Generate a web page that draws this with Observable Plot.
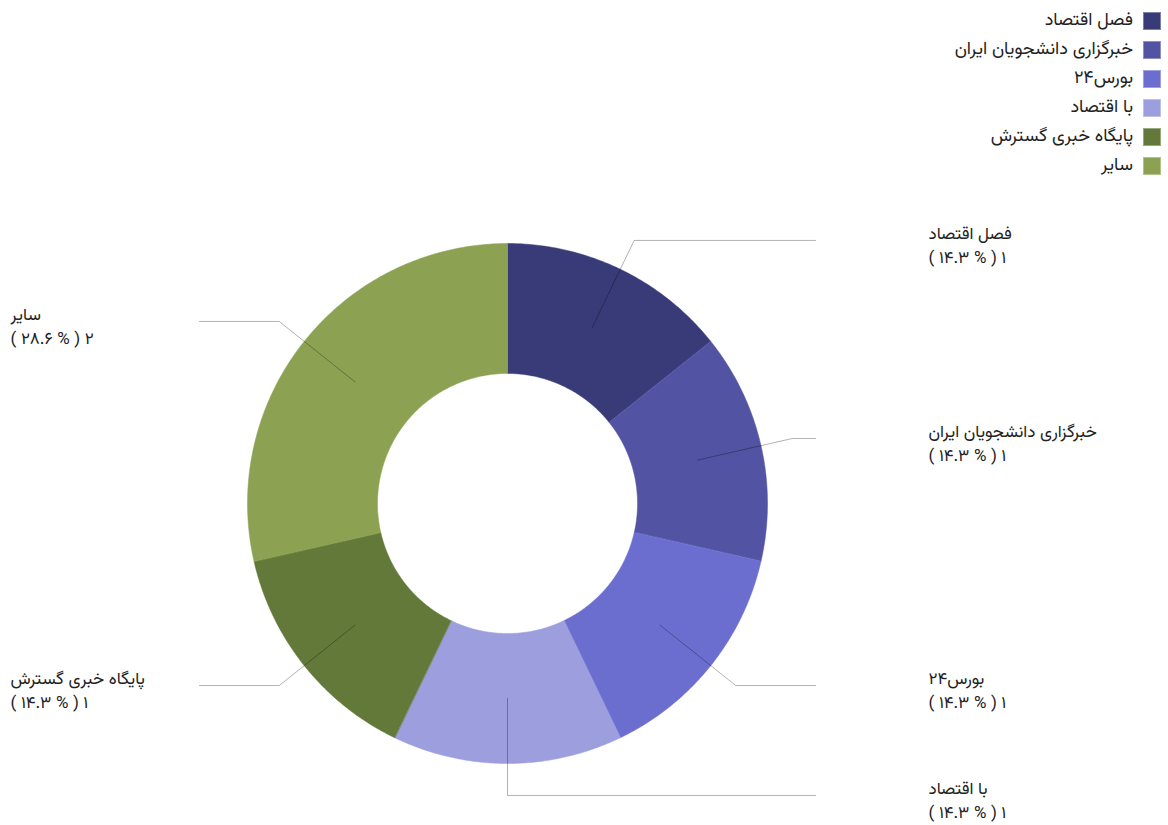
<!DOCTYPE html>
<html><head><meta charset="utf-8">
<script src="https://cdn.jsdelivr.net/npm/d3@7"></script>
<script src="https://cdn.jsdelivr.net/npm/@observablehq/plot@0.6"></script>
<style>
body{margin:0;background:#fff;font-family:Vazirmatn,"Noto Sans Arabic","DejaVu Sans",sans-serif;color:#333;}
#legend{height:185px;box-sizing:border-box;padding-top:6px;padding-right:7px;display:flex;flex-direction:column;align-items:flex-end;}
.row{height:29px;display:flex;align-items:center;}
.row span{font-size:18px;direction:rtl;color:#222;}
.sw{width:18px;height:18px;margin-left:10px;box-sizing:border-box;border:1px solid rgba(255,255,255,0.35);}
#chart svg{display:block;}
</style></head><body>
<div id="legend"></div>
<div id="chart"></div>
<script>
// Data
const labels = ["فصل اقتصاد","خبرگزاری دانشجویان ایران","بورس۲۴","با اقتصاد","پایگاه خبری گسترش","سایر"];
const values = [1,1,1,1,1,2];
const colors = ["#393b79","#5254a3","#6b6ecf","#9c9ede","#637939","#8ca252"];

// Layout (pixels)
const W = 1168, H = 640, CX = 507, CY = 318, R = 260;
const INNER = 0.5, MID = 0.75, ELBOW = 1.123, HEND = 308 / R;
const LABEL_R = 421 / R, LABEL_L = -497 / R;

const fa = s => String(s).replace(/[0-9]/g, d => "۰۱۲۳۴۵۶۷۸۹"[d]);
const rtl = s => "\u202B" + s + "\u202C";
const total = d3.sum(values);

// Legend
const leg = document.getElementById("legend");
labels.forEach((l, i) => {
  const row = document.createElement("div"); row.className = "row";
  const sp = document.createElement("span"); sp.textContent = l;
  const sw = document.createElement("div"); sw.className = "sw"; sw.style.background = colors[i];
  row.appendChild(sp); row.appendChild(sw); leg.appendChild(row);
});

const arcs = d3.pie().sort(null).startAngle(0).endAngle(2 * Math.PI)(values);
const pt = (r, a) => ({x: r * Math.sin(a), y: r * Math.cos(a)});

const slicePts = [];
arcs.forEach((a, i) => {
  const n = Math.max(8, Math.ceil((a.endAngle - a.startAngle) / (Math.PI / 360)));
  for (let k = 0; k <= n; k++) slicePts.push({label: labels[i], ...pt(1, a.startAngle + (a.endAngle - a.startAngle) * k / n)});
  for (let k = n; k >= 0; k--) slicePts.push({label: labels[i], ...pt(INNER, a.startAngle + (a.endAngle - a.startAngle) * k / n)});
});

const leaderPts = [], labelRows = [];
arcs.forEach((a, i) => {
  const m = (a.startAngle + a.endAngle) / 2;
  const right = m <= Math.PI + 1e-6;
  const p0 = pt(MID, m), p1 = pt(ELBOW, m);
  leaderPts.push({label: labels[i], ...p0}, {label: labels[i], ...p1}, {label: labels[i], x: right ? HEND : -HEND, y: p1.y});
  const pct = d3.format(".1f")(values[i] / total * 100);
  labelRows.push({
    x: right ? LABEL_R : LABEL_L, y: p1.y,
    text: rtl(labels[i]) + "\n" + rtl(`${fa(values[i])} ( % ${fa(pct)} )`)
  });
});

const chart = Plot.plot({
  width: W, height: H, margin: 0,
  x: {domain: [-CX / R, (W - CX) / R], range: [0, W], axis: null},
  y: {domain: [-(H - CY) / R, CY / R], range: [H, 0], axis: null},
  color: {domain: labels, range: colors},
  style: {fontFamily: 'Vazirmatn,"Noto Sans Arabic","DejaVu Sans",sans-serif', background: "#fff"},
  marks: [
    Plot.line(slicePts, {x: "x", y: "y", z: "label", fill: "label", stroke: "label", strokeWidth: 0.5, curve: "linear-closed"}),
    Plot.line(leaderPts, {x: "x", y: "y", z: "label", stroke: "black", strokeOpacity: 0.3, strokeWidth: 1}),
    Plot.text(labelRows, {x: "x", y: "y", text: "text", textAnchor: "start", lineAnchor: "middle", lineHeight: 1.42, dy: 3, fontSize: 17, fill: "#222"})
  ]
});
document.getElementById("chart").appendChild(chart);
</script>
</body></html>
